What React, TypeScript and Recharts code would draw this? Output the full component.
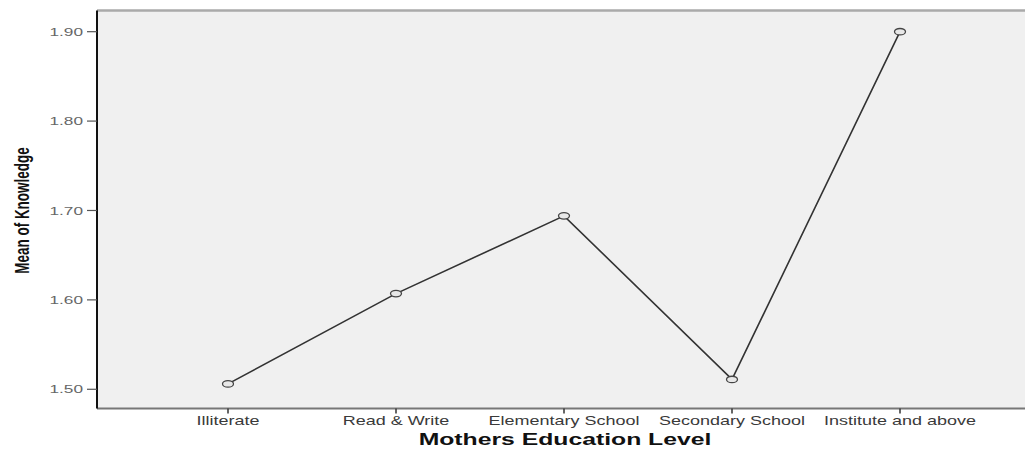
import React from "react";
import {
  LineChart,
  Line,
  XAxis,
  YAxis,
  CartesianGrid,
  ReferenceLine,
} from "recharts";

const categories = [
  "Illiterate",
  "Read & Write",
  "Elementary School",
  "Secondary School",
  "Institute and above",
];
const knowledgeMeans = [1.506, 1.607, 1.694, 1.511, 1.9];
const yTicks = [1.5, 1.6, 1.7, 1.8, 1.9];
const yDomain = [1.4785, 1.9237];

const data = categories.map((name, i) => ({ name, value: knowledgeMeans[i] }));

const STRETCH = 1.5;
const FONT = "'Liberation Sans', Arial, sans-serif";

const XTick = (props: any) => {
  const { x, y, payload } = props;
  return (
    <g transform={`translate(${x},${y})`}>
      <text
        transform={`scale(${STRETCH},1)`}
        textAnchor="middle"
        dy="0.71em"
        fontSize={12}
        fontFamily={FONT}
        fill="#3a3a3a"
      >
        {payload.value}
      </text>
    </g>
  );
};

const YTick = (props: any) => {
  const { x, y, payload } = props;
  return (
    <g transform={`translate(${x},${y})`}>
      <text
        transform={`scale(${STRETCH},1)`}
        textAnchor="end"
        dy="0.35em"
        fontSize={11.5}
        fontFamily={FONT}
        fill="#666"
      >
        {Number(payload.value).toFixed(2)}
      </text>
    </g>
  );
};

const XTitle = (props: any) => {
  const { viewBox } = props;
  const cx = viewBox.x + viewBox.width / 2 + 4;
  return (
    <g transform={`translate(${cx},${viewBox.y + 31})`}>
      <text
        transform={`scale(${STRETCH},1)`}
        textAnchor="middle"
        dy="0.35em"
        fontSize={16.5}
        fontWeight="bold"
        fontFamily={FONT}
        fill="#111"
      >
        Mothers Education Level
      </text>
    </g>
  );
};

const YTitle = (props: any) => {
  const { viewBox } = props;
  const cy = viewBox.y + viewBox.height / 2 + 1;
  return (
    <g transform={`translate(22,${cy})`}>
      <text
        transform={`scale(${STRETCH},1) rotate(-90)`}
        textAnchor="middle"
        dy="0.35em"
        fontSize={13.5}
        fontWeight="bold"
        fontFamily={FONT}
        fill="#111"
      >
        Mean of Knowledge
      </text>
    </g>
  );
};

const OvalDot = (props: any) => {
  const { cx, cy } = props;
  if (cx == null || cy == null) return null;
  return (
    <ellipse
      cx={cx}
      cy={cy}
      rx={5.5}
      ry={3.2}
      fill="#e8e8e8"
      stroke="#444"
      strokeWidth={1.3}
    />
  );
};

export default function App() {
  return (
    <div style={{ position: "absolute", left: 0, top: 0, background: "#fff" }}>
      <LineChart
        width={1025}
        height={452}
        data={data}
        margin={{ top: 10.5, right: 0, bottom: 0, left: 0 }}
      >
        <CartesianGrid
          fill="#f0f0f0"
          horizontal={false}
          vertical={false}
          stroke="none"
        />
        <XAxis
          dataKey="name"
          scale="point"
          padding={{ left: 131, right: 125 }}
          height={43.5}
          tick={<XTick />}
          tickSize={5}
          tickMargin={3}
          tickLine={{ stroke: "#333", strokeWidth: 1.5 }}
          axisLine={{ stroke: "#777", strokeWidth: 2 }}
          interval={0}
          label={<XTitle />}
        />
        <YAxis
          width={97}
          domain={yDomain}
          ticks={yTicks}
          allowDataOverflow
          tick={<YTick />}
          tickSize={10}
          tickMargin={4}
          tickLine={{ stroke: "#555", strokeWidth: 1.2 }}
          axisLine={{ stroke: "#111", strokeWidth: 2 }}
          label={<YTitle />}
        />
        <ReferenceLine
          y={yDomain[1]}
          stroke="#aaa"
          strokeWidth={2.5}
          ifOverflow="visible"
        />
        <Line
          type="linear"
          dataKey="value"
          stroke="#333"
          strokeWidth={1.6}
          dot={<OvalDot />}
          activeDot={false}
          isAnimationActive={false}
        />
      </LineChart>
    </div>
  );
}
